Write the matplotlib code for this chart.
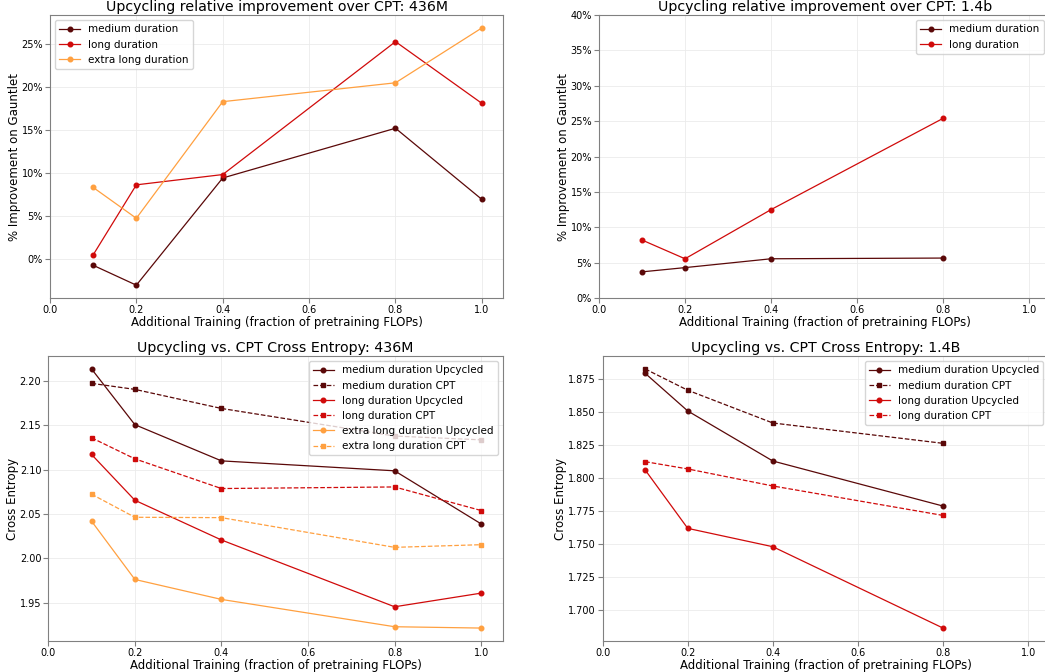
import matplotlib
matplotlib.use("Agg")
import matplotlib.pyplot as plt
from matplotlib.ticker import PercentFormatter

# training budget (fraction of pretraining FLOPs)
x_436m = [0.1, 0.2, 0.4, 0.8, 1.0]
x_14b = [0.1, 0.2, 0.4, 0.8]

# relative improvement over CPT (%)
imp_436m_medium = [-0.78, -3.1, 9.4, 15.2, 6.9]
imp_436m_long = [0.43, 8.6, 9.8, 25.3, 18.1]
imp_436m_extra = [8.3, 4.7, 18.3, 20.5, 26.9]
imp_14b_medium = [3.7, 4.3, 5.55, 5.65]
imp_14b_long = [8.2, 5.55, 12.5, 25.4]

# cross entropy, 436M
ce_436m_medium_up = [2.2136, 2.1508, 2.1100, 2.0988, 2.0389]
ce_436m_medium_cpt = [2.1974, 2.1906, 2.1691, 2.1380, 2.1337]
ce_436m_long_up = [2.1172, 2.0656, 2.0208, 1.9455, 1.9609]
ce_436m_long_cpt = [2.1360, 2.1123, 2.0788, 2.0806, 2.0540]
ce_436m_extra_up = [2.0420, 1.9763, 1.9538, 1.9230, 1.9215]
ce_436m_extra_cpt = [2.0724, 2.0464, 2.0460, 2.0125, 2.0155]

# cross entropy, 1.4B
ce_14b_medium_up = [1.8790, 1.8505, 1.8126, 1.7785]
ce_14b_medium_cpt = [1.8823, 1.8662, 1.8414, 1.8260]
ce_14b_long_up = [1.8058, 1.7616, 1.7477, 1.6861]
ce_14b_long_cpt = [1.8121, 1.8066, 1.7937, 1.7714]

c_medium = "#5a0808"
c_long = "#d00a0a"
c_extra = "#ffa040"

fig = plt.figure(figsize=(10.45, 6.72), dpi=100)
# the right-hand panels run past the right edge, as in the source image
ax1 = fig.add_axes([0.0478, 0.5565, 0.4340, 0.4211])
ax2 = fig.add_axes([0.5732, 0.5565, 0.4322, 0.4211])
ax3 = fig.add_axes([0.0462, 0.0461, 0.4350, 0.4241])
ax4 = fig.add_axes([0.5767, 0.0461, 0.4275, 0.4241])

lw = 0.9
ms = 3.3
fs_leg = 7.45

def style(ax, title, ylabel):
    ax.set_title(title, fontsize=10.2, pad=3)
    ax.set_xlabel("Additional Training (fraction of pretraining FLOPs)", fontsize=8.5, labelpad=1)
    ax.set_ylabel(ylabel, fontsize=8.5, labelpad=0.5)
    ax.set_xlim(0, 1.05)
    ax.grid(True, color="0.92", linewidth=0.6)
    ax.tick_params(labelsize=7.0, color="0.5", length=3.5, pad=1.5)
    for s in ax.spines.values():
        s.set_color("0.5")

ax1.plot(x_436m, imp_436m_medium, "-o", color=c_medium, lw=lw, ms=ms, label="medium duration")
ax1.plot(x_436m, imp_436m_long, "-o", color=c_long, lw=lw, ms=ms, label="long duration")
ax1.plot(x_436m, imp_436m_extra, "-o", color=c_extra, lw=lw, ms=ms, label="extra long duration")
style(ax1, "Upcycling relative improvement over CPT: 436M", "% Improvement on Gauntlet")
ax1.yaxis.set_major_formatter(PercentFormatter(decimals=0))
ax1.legend(loc="upper left", fontsize=fs_leg)

ax2.plot(x_14b, imp_14b_medium, "-o", color=c_medium, lw=lw, ms=ms, label="medium duration")
ax2.plot(x_14b, imp_14b_long, "-o", color=c_long, lw=lw, ms=ms, label="long duration")
style(ax2, "Upcycling relative improvement over CPT: 1.4b", "% Improvement on Gauntlet")
ax2.set_ylim(0, 40)
ax2.yaxis.set_major_formatter(PercentFormatter(decimals=0))
ax2.legend(loc="upper left", bbox_to_anchor=(0.691, 1.0), fontsize=fs_leg)

ax3.plot(x_436m, ce_436m_medium_up, "-o", color=c_medium, lw=lw, ms=ms, label="medium duration Upcycled")
ax3.plot(x_436m, ce_436m_medium_cpt, "--s", color=c_medium, lw=lw, ms=ms, label="medium duration CPT")
ax3.plot(x_436m, ce_436m_long_up, "-o", color=c_long, lw=lw, ms=ms, label="long duration Upcycled")
ax3.plot(x_436m, ce_436m_long_cpt, "--s", color=c_long, lw=lw, ms=ms, label="long duration CPT")
ax3.plot(x_436m, ce_436m_extra_up, "-o", color=c_extra, lw=lw, ms=ms, label="extra long duration Upcycled")
ax3.plot(x_436m, ce_436m_extra_cpt, "--s", color=c_extra, lw=lw, ms=ms, label="extra long duration CPT")
style(ax3, "Upcycling vs. CPT Cross Entropy: 436M", "Cross Entropy")
ax3.legend(loc="upper right", fontsize=fs_leg)

ax4.plot(x_14b, ce_14b_medium_up, "-o", color=c_medium, lw=lw, ms=ms, label="medium duration Upcycled")
ax4.plot(x_14b, ce_14b_medium_cpt, "--s", color=c_medium, lw=lw, ms=ms, label="medium duration CPT")
ax4.plot(x_14b, ce_14b_long_up, "-o", color=c_long, lw=lw, ms=ms, label="long duration Upcycled")
ax4.plot(x_14b, ce_14b_long_cpt, "--s", color=c_long, lw=lw, ms=ms, label="long duration CPT")
style(ax4, "Upcycling vs. CPT Cross Entropy: 1.4B", "Cross Entropy")
ax4.legend(loc="upper left", bbox_to_anchor=(0.575, 1.0), fontsize=fs_leg)

fig.savefig("out.png", dpi=100)
